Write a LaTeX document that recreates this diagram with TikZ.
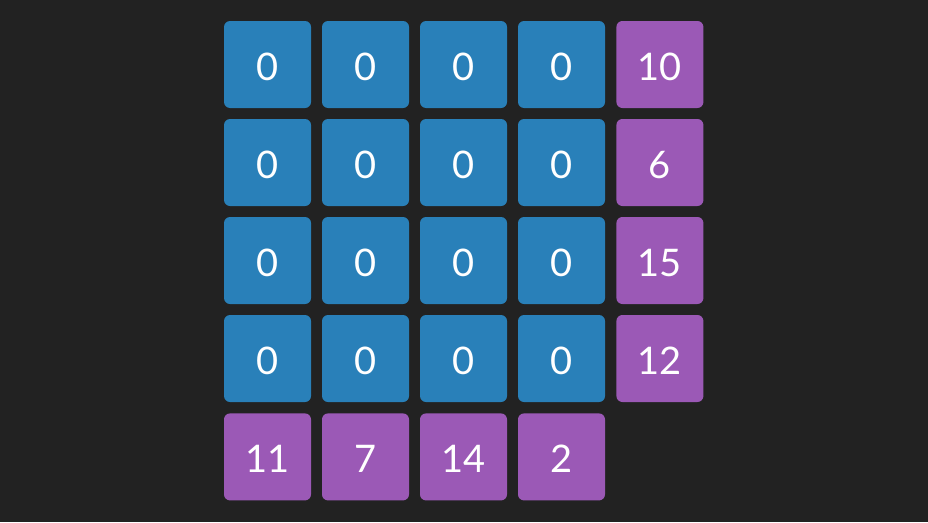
\documentclass[tikz,border=0pt]{standalone}
\usepackage{fontspec}
\setmainfont{Lato}
\usetikzlibrary{positioning}
\definecolor{bgGray}{HTML}{222222}
\definecolor{cellBlue}{HTML}{2980B9}
\definecolor{cellPurple}{HTML}{9B59B6}
\tikzstyle{cell} = [
                rectangle,
                rounded corners = 6pt,
                minimum size = 87pt,
                inner sep = 0pt,
                text height = 31pt,
                text depth = 0pt,
                text = white,
                font = \fontsize{38}{40}\selectfont
            ]
\tikzstyle{zeroCell} = [cell, fill=cellBlue]
\tikzstyle{sumCell} = [cell, fill=cellPurple]

\begin{document}
\begin{tikzpicture}[x=1pt, y=-1pt, node distance = 11pt]
                            \fill [bgGray] (0,0) rectangle (928,522);
                            \useasboundingbox (0,0) rectangle (928,522);
                            % grid of zeros
                            \foreach \i in {0,...,3} {
                                \foreach \j in {0,...,3} {
                                    \node (c\i\j) [zeroCell] at (267.5+98*\i, 64.5+98*\j) {0};
                                }
                            }
                            % row sums
                            \node (r0) [sumCell, right=of c30] {10};
                            \node (r1) [sumCell, right=of c31] {6};
                            \node (r2) [sumCell, right=of c32] {15};
                            \node (r3) [sumCell, right=of c33] {12};
                            % column sums
                            \node (s0) [sumCell, below=of c03] {11};
                            \node (s1) [sumCell, below=of c13] {7};
                            \node (s2) [sumCell, below=of c23] {14};
                            \node (s3) [sumCell, below=of c33] {2};
                        \end{tikzpicture}
\end{document}
